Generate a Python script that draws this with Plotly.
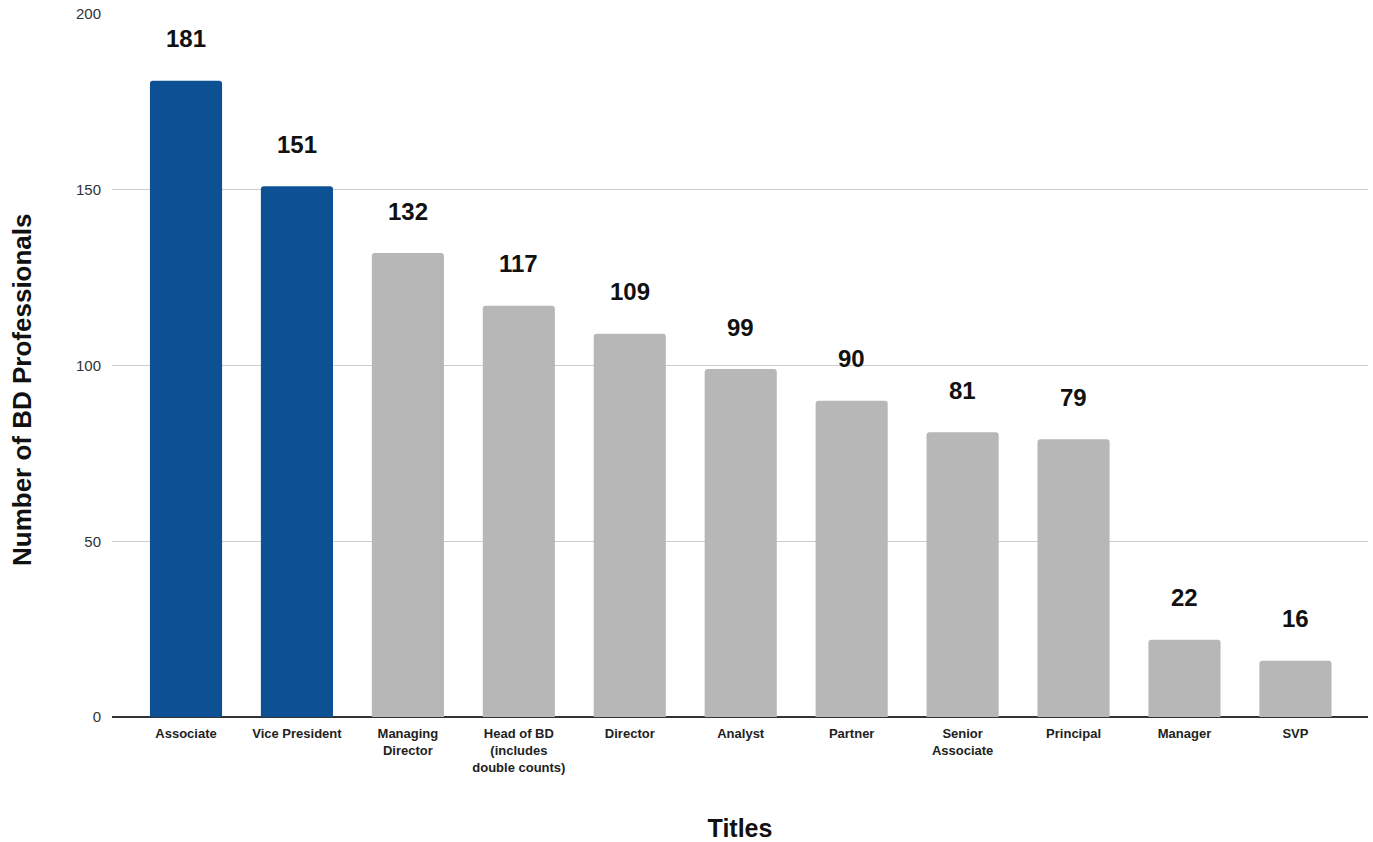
import plotly.graph_objects as go

categories = ["Associate", "Vice President", "Managing<br>Director", "Head of BD<br>(includes<br>double counts)",
              "Director", "Analyst", "Partner", "Senior<br>Associate", "Principal", "Manager", "SVP"]
values = [181, 151, 132, 117, 109, 99, 90, 81, 79, 22, 16]
highlight = [True, True, False, False, False, False, False, False, False, False, False]
y_ticks = [0, 50, 100, 150, 200]

BLUE = "#0d5194"
GRAY = "#b7b7b7"
FONT = "Liberation Sans, Arial, sans-serif"

colors = [BLUE if h else GRAY for h in highlight]
xs = list(range(len(categories)))

fig = go.Figure()
fig.add_trace(go.Bar(
    x=xs, y=values, marker=dict(color=colors, line=dict(width=0), cornerradius=3),
    width=0.65, hoverinfo="skip",
))

for x, v in zip(xs, values):
    fig.add_annotation(x=x, y=v, text=f"<b>{v}</b>", showarrow=False,
                       yanchor="middle", yshift=42,
                       font=dict(family=FONT, size=24, color="#111111"))

fig.add_annotation(xref="paper", yref="paper", x=0, y=(717 - 390) / 703, xshift=-90,
                   xanchor="center", yanchor="middle",
                   text="<b>Number of BD Professionals</b>", textangle=-90, showarrow=False,
                   font=dict(family=FONT, size=26, color="#111111"))

fig.update_layout(
    width=1373, height=842,
    margin=dict(l=112, r=5, t=14, b=125),
    paper_bgcolor="white", plot_bgcolor="white",
    showlegend=False,
    bargap=0.35,
    xaxis=dict(
        tickmode="array", tickvals=xs, ticktext=[f"<b>{c}</b>" for c in categories],
        range=[-0.667, 10.654], showgrid=False, ticks="",
        tickfont=dict(family=FONT, size=13, color="#222222"),
        showline=False, zeroline=False, ticklabelstandoff=7,
        title=dict(text="<b>Titles</b>", font=dict(family=FONT, size=25, color="#111111"), standoff=46),
    ),
    yaxis=dict(
        range=[0, 200], tickvals=y_ticks, showgrid=True, gridcolor="#cccccc", gridwidth=1,
        zeroline=True, zerolinecolor="#333333", zerolinewidth=1.5,
        tickfont=dict(family=FONT, size=15, color="#333333"),
        ticks="", ticklen=0, title=None, ticklabelstandoff=10,
    ),
)

fig.write_html("out.html")
